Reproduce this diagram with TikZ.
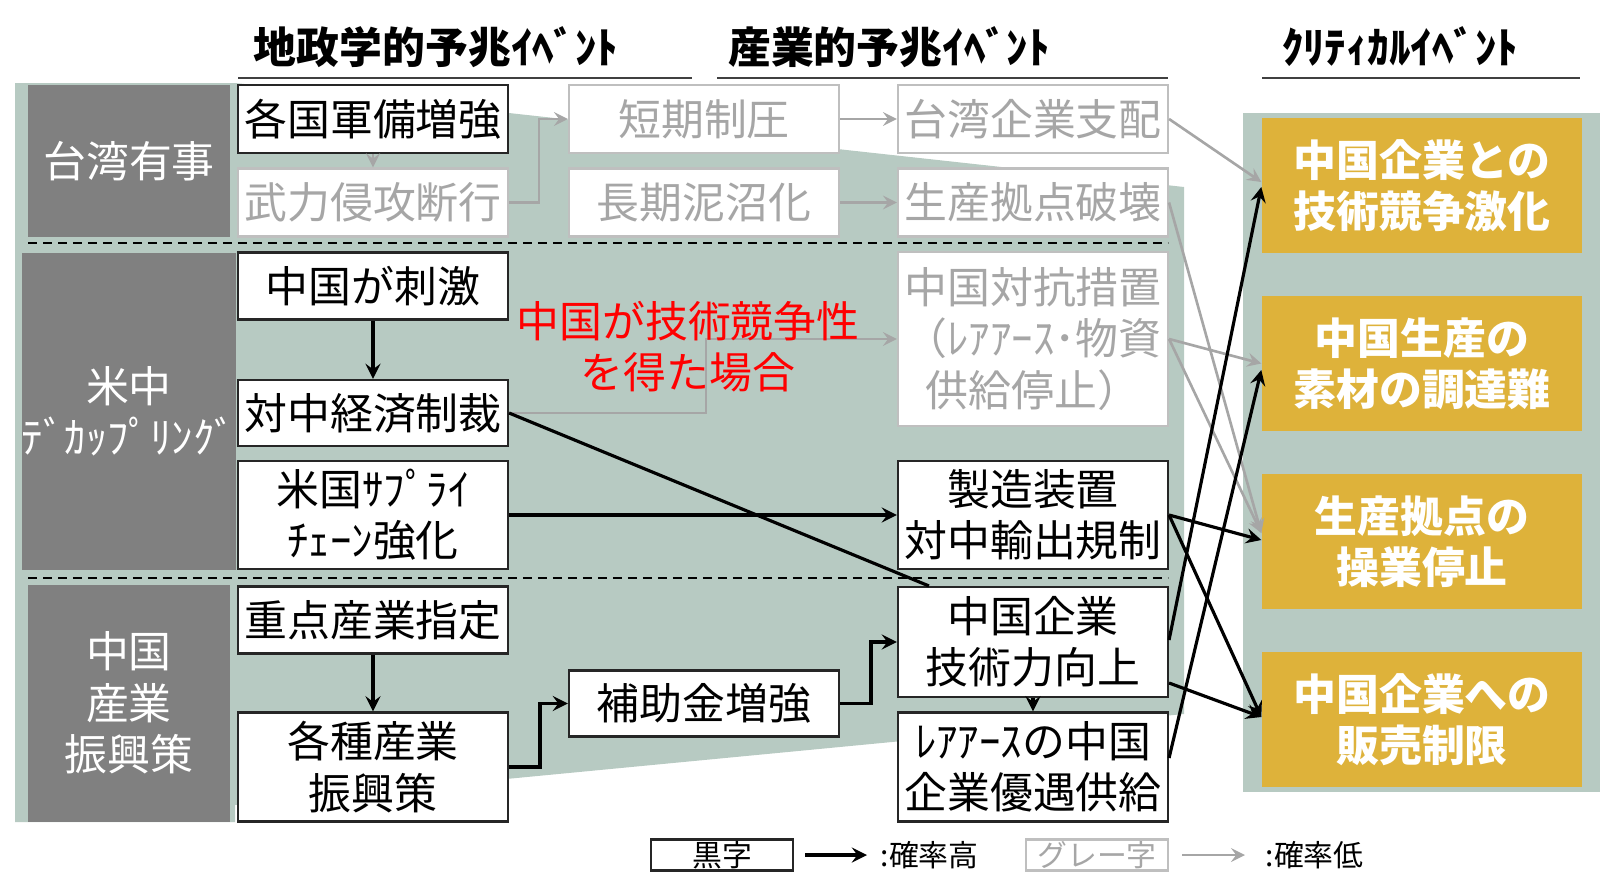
\documentclass[tikz,border=0pt]{standalone}
\usepackage{fontspec}
\setmainfont{Noto Sans CJK JP}
\usepackage{tikz}

\definecolor{bggreen}{RGB}{183,202,194}
\definecolor{lblgray}{RGB}{128,128,128}
\definecolor{critgold}{RGB}{222,178,58}
\definecolor{lowgray}{RGB}{166,166,166}

\begin{document}
\begin{tikzpicture}[x=0.1mm,y=-0.1mm,
  every node/.style={font=\fontsize{12.2}{14.6}\selectfont, align=center, inner sep=0pt},
  hibox/.style={draw=black!85, line width=0.6pt, fill=white, text=black, minimum width=27mm},
  lobox/.style={draw=black!25, line width=0.6pt, fill=white, text=lowgray, minimum width=27mm},
  lbl/.style={fill=lblgray, text=white, minimum width=20.2mm},
  crit/.style={fill=critgold, text=white, font=\fontsize{12.2}{14.6}\selectfont\bfseries,
               minimum width=32mm, minimum height=13.5mm},
  head/.style={font=\fontsize{12.2}{14.6}\selectfont\bfseries},
  keytext/.style={font=\fontsize{8.5}{10}\selectfont},
  hi/.style={draw=black, line width=0.9pt},
  lo/.style={draw=lowgray, line width=0.75pt}
]
  \useasboundingbox (0,0) rectangle (1600,891);
  \fill[bggreen] (15,83) -- (235,83) -- (1184,187) -- (1184,714) -- (235,805)
                 -- (235,822) -- (15,822) -- cycle;
  \fill[bggreen] (1243,113) rectangle (1600,792);

  \node[head] (h1) at (436,47) {地政学的予兆ｲﾍﾞﾝﾄ};
  \node[head] (h2) at (889,47) {産業的予兆ｲﾍﾞﾝﾄ};
  \node[head] (h3) at (1400,47) {ｸﾘﾃｨｶﾙｲﾍﾞﾝﾄ};
  \draw[black!75, line width=0.6pt] (238,78) -- (692,78) (717,78) -- (1168,78) (1262,78) -- (1580,78);

  \draw[dash pattern=on 0.9mm off 0.6mm, line width=0.55pt] (28,243) -- (1168,243) (28,578) -- (1168,578);

  \node[lbl, minimum height=15.2mm] (taiwan) at (129,161) {台湾有事};
  \node[lbl, minimum height=31.7mm] (decoup) at (129,411) {米中\\ﾃﾞｶｯﾌﾟﾘﾝｸﾞ};
  \node[lbl, minimum height=23.7mm] (policy) at (129,703) {中国\\産業\\振興策};

  \node[hibox, minimum height=6.8mm]  (arms)    at (373,119)   {各国軍備増強};
  \node[lobox, minimum height=6.8mm]  (invade)  at (373,202.5) {武力侵攻断行};
  \node[hibox, minimum height=6.7mm]  (stim)    at (373,286)   {中国が刺激};
  \node[hibox, minimum height=6.6mm]  (sanc)    at (373,413)   {対中経済制裁};
  \node[hibox, minimum height=10.8mm] (supply)  at (373,515)   {米国ｻﾌﾟﾗｲ\\ﾁｪｰﾝ強化};
  \node[hibox, minimum height=6.7mm]  (prio)    at (373,620)   {重点産業指定};
  \node[hibox, minimum height=10.9mm] (promo)   at (373,767)   {各種産業\\振興策};

  \node[lobox, minimum height=6.8mm]  (short)   at (704,119)   {短期制圧};
  \node[lobox, minimum height=6.8mm]  (long)    at (704,202.5) {長期泥沼化};
  \node[hibox, minimum height=6.6mm]  (subsidy) at (704,703.5) {補助金増強};

  \node[lobox, minimum height=6.8mm]  (twcorp)  at (1033,119)   {台湾企業支配};
  \node[lobox, minimum height=6.8mm]  (plant)   at (1033,202.5) {生産拠点破壊};
  \node[lobox, minimum height=17.4mm] (counter) at (1033,339)   {中国対抗措置\\（ﾚｱｱｰｽ･物資\\供給停止）};
  \node[hibox, minimum height=10.8mm] (equip)   at (1033,515)   {製造装置\\対中輸出規制};
  \node[hibox, minimum height=11mm]   (tech)    at (1033,642)   {中国企業\\技術力向上};
  \node[hibox, minimum height=10.9mm] (rare)    at (1033,767)   {ﾚｱｱｰｽの中国\\企業優遇供給};

  \node[crit] (c1) at (1422,185.5) {中国企業との\\技術競争激化};
  \node[crit] (c2) at (1422,363.5) {中国生産の\\素材の調達難};
  \node[crit] (c3) at (1422,541.5) {生産拠点の\\操業停止};
  \node[crit] (c4) at (1422,719.5) {中国企業への\\販売制限};

  \draw[lo, -stealth] (invade.east) -- ++(30,0) |- (short.west);
  \draw[lo, -stealth] (sanc.east) -- ++(197,0) |- (counter.west);
  \node[text=red] (cond) at (688,347) {中国が技術競争性\\を得た場合};

  \draw[hi, -stealth] (promo.east) -- ++(31,0) |- (subsidy.west);
  \draw[hi, -stealth] (subsidy.east) -- ++(31,0) |- (tech.west);
  \draw[hi] (sanc.east) -- ([xshift=3.2mm]tech.north west);

  \path[-stealth]
    (arms) edge[lo] (invade)
    (short) edge[lo] (twcorp)
    (long) edge[lo] (plant)
    (twcorp.east) edge[lo] ([yshift=0.35mm]c1.west)
    (plant.east) edge[lo] ([yshift=0.85mm]c3.west)
    (counter.east) edge[lo] (c2.west)
    (counter.east) edge[lo] ([yshift=0.85mm]c3.west)

    (stim) edge[hi] (sanc)
    (prio) edge[hi] (promo)
    (supply) edge[hi] (equip)
    (tech) edge[hi] (rare)
    (equip.east) edge[hi] ([yshift=0.15mm]c3.west)
    (equip.east) edge[hi] ([yshift=0.25mm]c4.west)
    ([yshift=0.2mm]tech.east) edge[hi] ([yshift=-0.15mm]c1.west)
    ([yshift=-4.1mm]tech.east) edge[hi] ([yshift=0.25mm]c4.west)
    ([yshift=0.9mm]rare.east) edge[hi] ([yshift=-0.65mm]c2.west);

  \node[hibox, keytext, minimum width=14.2mm, minimum height=3.1mm] (kblack) at (722,855) {黒字};
  \node[keytext, anchor=west] (khigh) at (880,855) {:確率高};
  \node[lobox, keytext, minimum width=14.2mm, minimum height=3.1mm] (kgray) at (1097,855) {グレー字};
  \node[keytext, anchor=west] (klow) at (1265,855) {:確率低};
  \path[-stealth]
    ([xshift=1.1mm]kblack.east) edge[hi] ([xshift=-1.3mm]khigh.west)
    ([xshift=1.3mm]kgray.east) edge[lo] ([xshift=-2mm]klow.west);
\end{tikzpicture}
\end{document}
